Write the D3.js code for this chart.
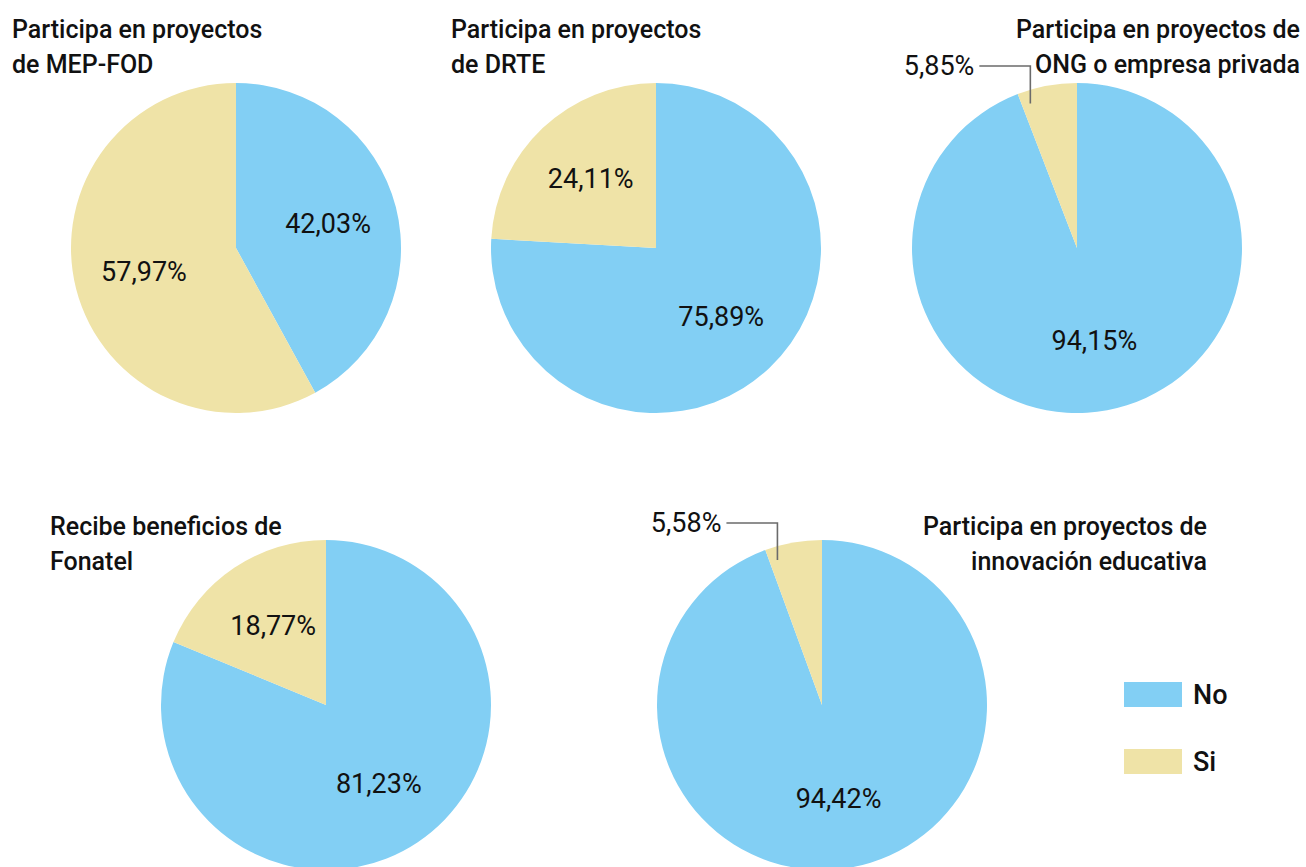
<!DOCTYPE html>
<html>
<head>
<meta charset="utf-8">
<script src="https://cdn.jsdelivr.net/npm/d3@7"></script>
<style>
body { margin: 0; background: #fff; }
svg { display: block; }
.title { font-family: Roboto, "Noto Sans", sans-serif; font-weight: 500; font-size: 25px; fill: #111; }
.label { font-family: Roboto, "Noto Sans", sans-serif; font-size: 27px; fill: #111; }
.legend-text { font-family: Roboto, "Noto Sans", sans-serif; font-weight: 500; font-size: 27px; fill: #111; }
.leader { fill: none; stroke: #6b6b6b; stroke-width: 1.6; }
</style>
</head>
<body>
<svg width="1306" height="867"></svg>
<script>
// data
var categories = ["No", "Si"];
var titles = [
  ["Participa en proyectos", "de MEP-FOD"],
  ["Participa en proyectos", "de DRTE"],
  ["Participa en proyectos de", "ONG o empresa privada"],
  ["Recibe beneficios de", "Fonatel"],
  ["Participa en proyectos de", "innovación educativa"]
];
var noValues = [42.03, 75.89, 94.15, 81.23, 94.42];
var siValues = [57.97, 24.11, 5.85, 18.77, 5.58];

var colors = d3.scaleOrdinal()
  .domain(categories)
  .range(["#82cff4", "#efe3a7"]);

// layout of the five pies
var layout = [
  {cx: 236, cy: 248, tx: 12, ty: 38, anchor: "start"},
  {cx: 656, cy: 248, tx: 451, ty: 38, anchor: "start"},
  {cx: 1077, cy: 248, tx: 1300, ty: 38, anchor: "end"},
  {cx: 326, cy: 705, tx: 50, ty: 535, anchor: "start"},
  {cx: 822, cy: 705, tx: 1207, ty: 535, anchor: "end"}
];

var svg = d3.select("svg");
var r = 165;
var lineH = 35;

var pie = d3.pie().sort(null).value(function(d) { return d.value; });
var arc = d3.arc().innerRadius(0).outerRadius(r);
var labelArc = d3.arc().innerRadius(95).outerRadius(95);
var fmt = function(v) { return v.toFixed(2).replace(".", ",") + "%"; };

layout.forEach(function(L, i) {
  var data = [
    {cat: categories[0], value: noValues[i]},
    {cat: categories[1], value: siValues[i]}
  ];
  var g = svg.append("g").attr("transform", "translate(" + L.cx + "," + L.cy + ")");
  var arcs = pie(data);

  g.selectAll("path")
    .data(arcs)
    .enter().append("path")
    .attr("d", arc)
    .attr("fill", function(d) { return colors(d.data.cat); });

  arcs.forEach(function(d) {
    if (d.data.value >= 10) {
      var c = labelArc.centroid(d);
      g.append("text")
        .attr("class", "label")
        .attr("x", c[0])
        .attr("y", c[1])
        .attr("text-anchor", "middle")
        .attr("dominant-baseline", "central")
        .text(fmt(d.data.value));
    } else {
      // small slice: label outside with a leader line
      var a = d.startAngle + (d.endAngle - d.startAngle) * 0.15;
      var lx = Math.sin(a) * r * 0.92;
      var ly = -Math.cos(a) * r * 0.92;
      var topY = -r - 17;
      var textEnd = lx - 56;
      g.append("path")
        .attr("class", "leader")
        .attr("d", "M" + (textEnd + 5) + "," + topY + "H" + lx + "V" + ly);
      g.append("text")
        .attr("class", "label")
        .attr("x", textEnd)
        .attr("y", topY)
        .attr("text-anchor", "end")
        .attr("dominant-baseline", "central")
        .text(fmt(d.data.value));
    }
  });

  var t = svg.append("text")
    .attr("class", "title")
    .attr("text-anchor", L.anchor);
  titles[i].forEach(function(line, j) {
    t.append("tspan")
      .attr("x", L.tx)
      .attr("y", L.ty + j * lineH)
      .text(line);
  });
});

// legend
var legend = svg.append("g").attr("transform", "translate(1124,682)");
var ly = d3.scalePoint().domain(categories).range([0, 67]);
var item = legend.selectAll("g")
  .data(categories)
  .enter().append("g")
  .attr("transform", function(d) { return "translate(0," + ly(d) + ")"; });
item.append("rect")
  .attr("width", 58)
  .attr("height", 25)
  .attr("fill", function(d) { return colors(d); });
item.append("text")
  .attr("class", "legend-text")
  .attr("x", 69)
  .attr("y", 13)
  .attr("dominant-baseline", "central")
  .text(function(d) { return d; });
</script>
</body>
</html>
